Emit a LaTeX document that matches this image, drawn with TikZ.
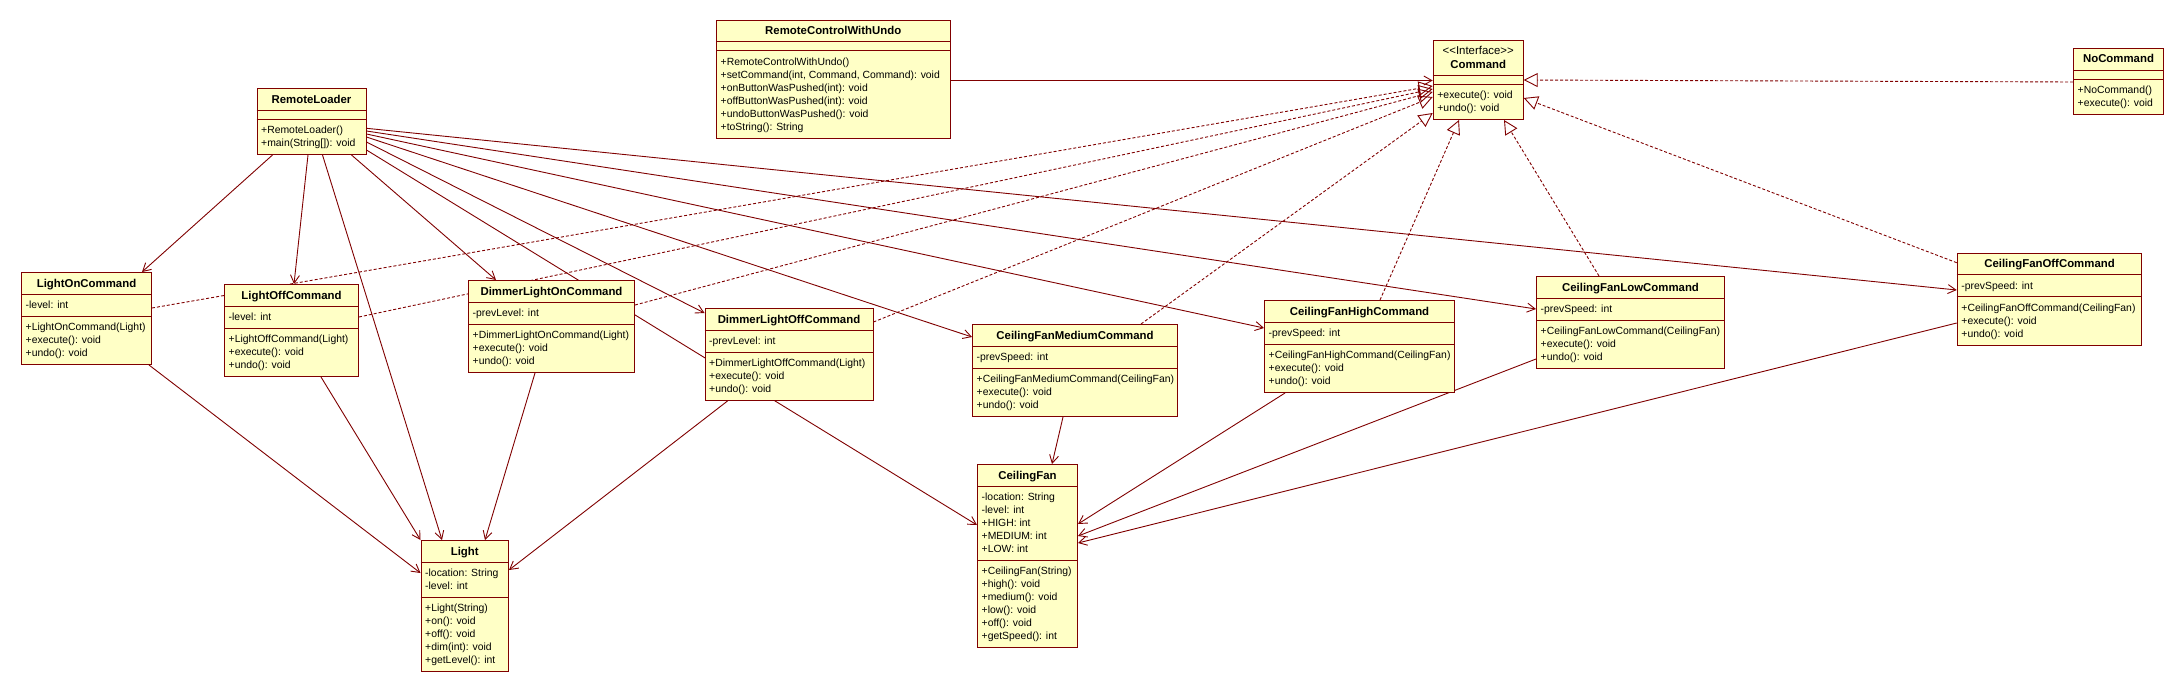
\documentclass[tikz,border=0pt]{standalone}
\usepackage{fontspec}
\setmainfont{Liberation Sans}
\usetikzlibrary{arrows.meta}
\definecolor{umlline}{RGB}{128,0,0}
\definecolor{umlfill}{RGB}{255,255,198}
\pgfdeclarelayer{back}
\pgfdeclarelayer{conn}
\pgfsetlayers{back,conn,main}
\tikzset{
  classbox/.style={draw=umlline, fill=umlfill, line width=1pt, inner sep=0pt, rectangle},
  boxline/.style={draw=umlline, line width=1pt},
  titletext/.style={inner sep=0pt, font=\fontsize{11.4}{13}\selectfont\bfseries, text=black},
  bodytext/.style={inner sep=0pt, font=\fontsize{10.4}{13}\selectfont, text=black},
  assoc/.style={draw=umlline, line width=0.9pt, -{Straight Barb[length=8pt,width=9pt]}},
  realize/.style={draw=umlline, line width=0.9pt, dash pattern=on 3pt off 2pt, -{Triangle[open,length=14pt,width=14pt]}},
}
% #1 name, #2 x,y of top-left, #3 width, #4 title height, #5 title lines,
% #6 number of attributes, #7 attributes, #8 number of methods, #9 methods
\newcommand{\umlclass}[9]{%
  \pgfmathsetmacro\uaH{9+13*#6}%
  \pgfmathsetmacro\umH{9+13*#8}%
  \pgfmathsetmacro\utH{#4+\uaH+\umH}%
  \pgfmathsetmacro\usB{#4+\uaH}%
  \node[classbox, minimum width=#3pt, minimum height=\utH pt, anchor=north west] (#1) at (#2) {};
  \draw[boxline] ([shift={(0,#4)}]#1.north west) -- ([shift={(0,#4)}]#1.north east);
  \draw[boxline] ([shift={(0,\usB)}]#1.north west) -- ([shift={(0,\usB)}]#1.north east);
  \foreach \tl [count=\ti] in {#5}{\node[titletext, anchor=base] (#1-t\ti) at ([shift={(0,2+13*\ti)}]#1.north) {\tl};}
  \ifnum#6>0
    \foreach \tl [count=\ti] in {#7}{\node[bodytext, anchor=base west] (#1-a\ti) at ([shift={(4.5,#4+1.5+13*\ti)}]#1.north west) {\tl};}
  \fi
  \foreach \tl [count=\ti] in {#9}{\node[bodytext, anchor=base west] (#1-m\ti) at ([shift={(4.5,\usB+1.5+13*\ti)}]#1.north west) {\tl};}
}
\begin{document}
\begin{tikzpicture}[x=1pt,y=-1pt]
\useasboundingbox (0,0) rectangle (2183,693);
\begin{pgfonlayer}{back}
\fill[white] (0,0) rectangle (2183,693);
\end{pgfonlayer}

\umlclass{rcwu}{716,20}{233.5}{22}{RemoteControlWithUndo}{0}{}{6}{{+RemoteControlWithUndo()},{+setCommand(int, Command, Command): void},{+onButtonWasPushed(int): void},{+offButtonWasPushed(int): void},{+undoButtonWasPushed(): void},{+toString(): String}}
\umlclass{cmd}{1432.7,40}{90}{35}{{\mdseries <{}<Interface>{}>},{Command}}{0}{}{2}{{+execute(): void},{+undo(): void}}
\umlclass{nocmd}{2073,48}{90}{22}{NoCommand}{0}{}{2}{{+NoCommand()},{+execute(): void}}
\umlclass{rl}{256.5,88}{109}{22}{RemoteLoader}{0}{}{2}{{+RemoteLoader()},{+main(String[]): void}}
\umlclass{lon}{21,272}{130}{22}{LightOnCommand}{1}{{-level: int}}{3}{{+LightOnCommand(Light)},{+execute(): void},{+undo(): void}}
\umlclass{loff}{224,284}{134}{22}{LightOffCommand}{1}{{-level: int}}{3}{{+LightOffCommand(Light)},{+execute(): void},{+undo(): void}}
\umlclass{dlon}{468,280}{166}{22}{DimmerLightOnCommand}{1}{{-prevLevel: int}}{3}{{+DimmerLightOnCommand(Light)},{+execute(): void},{+undo(): void}}
\umlclass{dloff}{704.5,308}{168}{22}{DimmerLightOffCommand}{1}{{-prevLevel: int}}{3}{{+DimmerLightOffCommand(Light)},{+execute(): void},{+undo(): void}}
\umlclass{cfm}{972,324}{205}{22}{CeilingFanMediumCommand}{1}{{-prevSpeed: int}}{3}{{+CeilingFanMediumCommand(CeilingFan)},{+execute(): void},{+undo(): void}}
\umlclass{cfh}{1264,300}{190}{22}{CeilingFanHighCommand}{1}{{-prevSpeed: int}}{3}{{+CeilingFanHighCommand(CeilingFan)},{+execute(): void},{+undo(): void}}
\umlclass{cfl}{1536,276}{188}{22}{CeilingFanLowCommand}{1}{{-prevSpeed: int}}{3}{{+CeilingFanLowCommand(CeilingFan)},{+execute(): void},{+undo(): void}}
\umlclass{cfo}{1956.7,252.7}{184.6}{22}{CeilingFanOffCommand}{1}{{-prevSpeed: int}}{3}{{+CeilingFanOffCommand(CeilingFan)},{+execute(): void},{+undo(): void}}
\umlclass{light}{420.5,540}{87.5}{22}{Light}{2}{{-location: String},{-level: int}}{5}{{+Light(String)},{+on(): void},{+off(): void},{+dim(int): void},{+getLevel(): int}}
\umlclass{cf}{977,464}{100}{22}{CeilingFan}{5}{{-location: String},{-level: int},{+HIGH: int},{+MEDIUM: int},{+LOW: int}}{6}{{+CeilingFan(String)},{+high(): void},{+medium(): void},{+low(): void},{+off(): void},{+getSpeed(): int}}

\begin{pgfonlayer}{conn}
% associations
\draw[assoc] ([shift={(0,60.5)}]rcwu.north east) -- ([shift={(0,40.5)}]cmd.north west);
\draw[assoc] ([shift={(16,0)}]rl.south west) -- ([shift={(121,0)}]lon.north west);
\draw[assoc] ([shift={(51.5,0)}]rl.south west) -- ([shift={(70,0)}]loff.north west);
\draw[assoc] ([shift={(66,0)}]rl.south west) -- ([shift={(21.5,0)}]light.north west);
\draw[assoc] ([shift={(95,0)}]rl.south west) -- ([shift={(28,0)}]dlon.north west);
\draw[assoc] ([shift={(0,62)}]rl.north east) -- ([shift={(0,61)}]cf.north west);
\draw[assoc] ([shift={(0,54)}]rl.north east) -- ([shift={(0,5)}]dloff.north west);
\draw[assoc] ([shift={(0,49)}]rl.north east) -- ([shift={(0,13)}]cfm.north west);
\draw[assoc] ([shift={(0,46)}]rl.north east) -- ([shift={(0,28)}]cfh.north west);
\draw[assoc] ([shift={(0,43)}]rl.north east) -- ([shift={(0,33)}]cfl.north west);
\draw[assoc] ([shift={(0,40.3)}]rl.north east) -- ([shift={(0,37.3)}]cfo.north west);
\draw[assoc] ([shift={(128,0)}]lon.south west) -- ([shift={(0,33)}]light.north west);
\draw[assoc] ([shift={(97,0)}]loff.south west) -- (light.north west);
\draw[assoc] ([shift={(67,0)}]dlon.south west) -- ([shift={(64.5,0)}]light.north west);
\draw[assoc] ([shift={(23,0)}]dloff.south west) -- ([shift={(0,30)}]light.north east);
\draw[assoc] ([shift={(91,0)}]cfm.south west) -- ([shift={(75,0)}]cf.north west);
\draw[assoc] ([shift={(21,0)}]cfh.south west) -- ([shift={(0,60)}]cf.north east);
\draw[assoc] ([shift={(0,83)}]cfl.north west) -- ([shift={(0,72)}]cf.north east);
\draw[assoc] ([shift={(0,70.3)}]cfo.north west) -- ([shift={(0,79)}]cf.north east);
% realizations
\draw[realize] ([shift={(0,36)}]lon.north east) -- ([shift={(0,46)}]cmd.north west);
\draw[realize] ([shift={(0,33)}]loff.north east) -- ([shift={(0,49)}]cmd.north west);
\draw[realize] ([shift={(0,25)}]dlon.north east) -- ([shift={(0,52)}]cmd.north west);
\draw[realize] ([shift={(0,14)}]dloff.north east) -- ([shift={(0,57)}]cmd.north west);
\draw[realize] ([shift={(169,0)}]cfm.north west) -- ([shift={(0,73)}]cmd.north west);
\draw[realize] ([shift={(116,0)}]cfh.north west) -- ([shift={(26.3,0)}]cmd.south west);
\draw[realize] ([shift={(63,0)}]cfl.north west) -- ([shift={(71.3,0)}]cmd.south west);
\draw[realize] ([shift={(0,10)}]cfo.north west) -- ([shift={(0,58)}]cmd.north east);
\draw[realize] ([shift={(0,34)}]nocmd.north west) -- ([shift={(0,40)}]cmd.north east);
\end{pgfonlayer}
\end{tikzpicture}
\end{document}
